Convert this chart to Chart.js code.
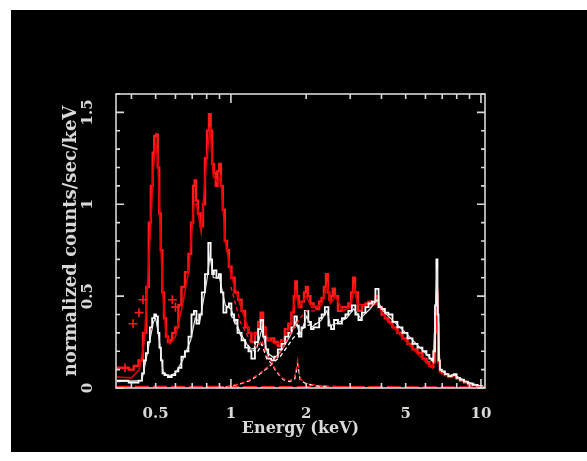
<!DOCTYPE html>
<html>
<head>
<meta charset="utf-8">
<script src="https://cdn.jsdelivr.net/npm/chart.js@4.4.1/dist/chart.umd.min.js"></script>
<style>
html,body{margin:0;padding:0;background:#fff;}
canvas{display:block;}
</style>
</head>
<body>
<canvas id="c" width="587" height="461"></canvas>
<script>
// ---- data (energy in keV, normalized counts/sec/keV) ----
const xTickValues = [0.5, 1, 2, 5, 10];
const xTickLabels = ['0.5', '1', '2', '5', '10'];
const yTickValues = [0, 0.5, 1, 1.5];
const yTickLabels = ['0', '0.5', '1', '1.5'];
const xMajorTicks = [1, 10];
const xMinorTicks = [0.4, 0.5, 0.6, 0.7, 0.8, 0.9, 2, 3, 4, 5, 6, 7, 8, 9];
const yMajorTicks = [0, 0.5, 1, 1.5];
const yMinorTicks = [0.1, 0.2, 0.3, 0.4, 0.6, 0.7, 0.8, 0.9, 1.1, 1.2, 1.3, 1.4, 1.6];

const redDataE = [0.35,0.38,0.40,0.417,0.437,0.453,0.465,0.474,0.483,0.49,0.497,0.506,0.513,0.52,0.528,0.535,0.545,0.555,0.565,0.575,0.59,0.608,0.625,0.643,0.667,0.686,0.70,0.712,0.72,0.73,0.745,0.766,0.78,0.795,0.81,0.824,0.835,0.847,0.863,0.877,0.89,0.904,0.92,0.935,0.955,0.973,0.99,1.02,1.05,1.086,1.12,1.16,1.19,1.225,1.27,1.30,1.33,1.36,1.39,1.43,1.47,1.51,1.57,1.61,1.675,1.72,1.77,1.80,1.82,1.85,1.89,1.94,1.98,2.01,2.05,2.11,2.17,2.23,2.28,2.33,2.38,2.42,2.46,2.49,2.53,2.58,2.63,2.73,2.83,2.91,2.99,3.06,3.11,3.16,3.28,3.40,3.50,3.60,3.73,3.84,3.95,4.06,4.2,4.33,4.53,4.74,4.97,5.2,5.45,5.7,5.97,6.14,6.3,6.4,6.5,6.6,6.67,6.73,6.8,6.9,7.05,7.3,7.52,7.73,7.87,8.1,8.4,8.7,9.04,9.46,9.9,10.3];
const redDataY = [0.11,0.11,0.10,0.12,0.15,0.30,0.55,0.90,1.10,1.28,1.37,1.38,1.20,0.95,0.75,0.52,0.38,0.28,0.25,0.26,0.30,0.33,0.45,0.55,0.63,0.73,0.90,1.10,1.13,1.02,0.95,0.88,1.00,1.25,1.40,1.49,1.40,1.22,1.17,1.10,1.18,1.22,1.10,0.97,0.80,0.75,0.66,0.60,0.52,0.48,0.42,0.33,0.30,0.25,0.30,0.36,0.41,0.33,0.27,0.26,0.27,0.25,0.23,0.26,0.32,0.35,0.41,0.50,0.58,0.50,0.44,0.47,0.52,0.55,0.50,0.46,0.44,0.43,0.47,0.49,0.55,0.62,0.52,0.48,0.50,0.54,0.50,0.42,0.44,0.44,0.46,0.52,0.60,0.52,0.42,0.45,0.46,0.47,0.46,0.50,0.44,0.40,0.38,0.36,0.33,0.30,0.27,0.24,0.21,0.19,0.16,0.14,0.12,0.115,0.14,0.30,0.52,0.35,0.14,0.09,0.08,0.07,0.06,0.065,0.07,0.05,0.04,0.03,0.02,0.015,0.01,0.005];

const redModelE = [0.35,0.40,0.43,0.45,0.47,0.49,0.50,0.51,0.52,0.535,0.55,0.57,0.60,0.64,0.68,0.71,0.73,0.76,0.80,0.825,0.85,0.89,0.91,0.95,1.0,1.09,1.19,1.27,1.33,1.4,1.5,1.6,1.72,1.82,1.87,2.0,2.1,2.3,2.43,2.5,2.62,2.8,3.0,3.12,3.2,3.5,3.85,4.2,4.74,5.45,6.14,6.4,6.67,6.85,7.5,7.87,8.7,10.3];
const redModelY = [0.06,0.055,0.10,0.25,0.70,1.20,1.33,1.25,0.90,0.50,0.30,0.24,0.28,0.45,0.65,1.00,1.00,0.85,1.25,1.42,1.15,1.12,1.15,0.80,0.62,0.45,0.30,0.29,0.37,0.27,0.24,0.25,0.33,0.52,0.44,0.50,0.44,0.45,0.56,0.46,0.50,0.42,0.44,0.55,0.46,0.44,0.46,0.37,0.29,0.20,0.13,0.11,0.48,0.09,0.06,0.065,0.03,0.004];

const whiteDataE = [0.35,0.38,0.40,0.417,0.437,0.445,0.453,0.461,0.47,0.478,0.49,0.497,0.506,0.515,0.52,0.53,0.535,0.55,0.57,0.59,0.608,0.625,0.643,0.667,0.686,0.705,0.718,0.738,0.755,0.775,0.80,0.824,0.835,0.847,0.863,0.887,0.904,0.92,0.946,0.973,0.99,1.019,1.04,1.086,1.12,1.16,1.19,1.225,1.27,1.30,1.33,1.36,1.39,1.43,1.47,1.51,1.57,1.62,1.675,1.72,1.77,1.82,1.85,1.89,1.94,2.01,2.07,2.11,2.17,2.23,2.28,2.33,2.42,2.49,2.54,2.63,2.73,2.83,2.91,2.99,3.1,3.19,3.28,3.40,3.50,3.60,3.73,3.84,3.95,4.06,4.2,4.33,4.53,4.74,4.97,5.2,5.45,5.7,5.97,6.14,6.3,6.4,6.5,6.6,6.67,6.73,6.8,6.9,7.05,7.3,7.52,7.73,7.87,8.1,8.4,8.7,9.04,9.46,9.9,10.3];
const whiteDataY = [0.04,0.04,0.03,0.03,0.04,0.08,0.15,0.19,0.25,0.33,0.38,0.40,0.39,0.30,0.22,0.15,0.08,0.07,0.06,0.07,0.09,0.11,0.17,0.20,0.28,0.40,0.42,0.35,0.40,0.52,0.62,0.79,0.70,0.62,0.64,0.60,0.62,0.52,0.41,0.44,0.46,0.40,0.37,0.30,0.26,0.22,0.20,0.16,0.25,0.32,0.37,0.28,0.21,0.16,0.15,0.17,0.21,0.24,0.28,0.30,0.33,0.39,0.34,0.28,0.33,0.42,0.36,0.32,0.33,0.33,0.38,0.40,0.44,0.34,0.32,0.37,0.35,0.38,0.40,0.42,0.45,0.40,0.37,0.41,0.44,0.46,0.47,0.54,0.44,0.43,0.41,0.40,0.36,0.33,0.30,0.27,0.24,0.22,0.20,0.18,0.16,0.15,0.20,0.45,0.70,0.40,0.15,0.10,0.09,0.075,0.065,0.07,0.075,0.055,0.045,0.035,0.025,0.017,0.01,0.006];

const whiteModelE = [0.35,0.44,0.46,0.49,0.50,0.515,0.535,0.56,0.60,0.64,0.69,0.72,0.75,0.80,0.825,0.85,0.90,0.95,1.0,1.09,1.19,1.27,1.33,1.4,1.5,1.6,1.72,1.82,1.89,2.01,2.1,2.3,2.42,2.5,2.63,2.9,3.1,3.3,3.6,3.84,4.06,4.5,5.0,5.7,6.3,6.45,6.67,6.85,7.5,7.87,8.7,10.3];
const whiteModelY = [0.035,0.04,0.17,0.36,0.38,0.28,0.09,0.065,0.08,0.15,0.26,0.38,0.36,0.58,0.72,0.60,0.60,0.45,0.43,0.30,0.21,0.22,0.32,0.19,0.16,0.21,0.28,0.36,0.29,0.39,0.33,0.37,0.42,0.34,0.35,0.38,0.43,0.38,0.43,0.48,0.42,0.36,0.30,0.22,0.16,0.14,0.65,0.10,0.065,0.07,0.035,0.005];

const redSoftE = [1.0,1.09,1.19,1.27,1.33,1.39,1.46,1.51,1.57,1.62,1.72,1.80,1.85,1.89,2.0,2.2,2.5,3.0,4.0];
const redSoftY = [0.55,0.36,0.26,0.22,0.26,0.18,0.136,0.10,0.07,0.05,0.04,0.06,0.15,0.05,0.025,0.015,0.01,0.006,0.004];
const whiteSoftE = [1.0,1.09,1.19,1.27,1.33,1.39,1.46,1.51,1.57,1.62,1.72,1.80,1.85,1.89,2.0,2.2,2.5];
const whiteSoftY = [0.40,0.29,0.22,0.19,0.24,0.16,0.13,0.095,0.065,0.045,0.035,0.05,0.13,0.045,0.022,0.012,0.008];
const redHardE = [0.85,0.95,1.0,1.09,1.19,1.27,1.36,1.46,1.57,1.67,1.77,1.89,2.0,2.2];
const redHardY = [0.002,0.006,0.01,0.025,0.045,0.07,0.10,0.136,0.19,0.26,0.32,0.38,0.42,0.42];
const whiteHardE = [0.9,1.0,1.09,1.19,1.27,1.36,1.46,1.57,1.67,1.77,1.89,2.0,2.2];
const whiteHardY = [0.003,0.01,0.022,0.04,0.065,0.095,0.13,0.17,0.22,0.27,0.31,0.34,0.35];
const baseE = [0.35, 10.3];
const baseY = [0.007, 0.004];
const crossE = [0.377, 0.406, 0.429, 0.445, 0.583, 0.60];
const crossY = [0.11, 0.35, 0.41, 0.48, 0.48, 0.44];

const pts = (xs, ys) => xs.map((x, i) => ({x: x, y: ys[i]}));
const RED = '#ff1a1a';
const WHITE = '#ffffff';
const FRAME = '#d8d8d8';

const bgPlugin = {
  id: 'bg',
  beforeDraw(chart) {
    const ctx = chart.ctx;
    ctx.save();
    ctx.fillStyle = '#ffffff';
    ctx.fillRect(0, 0, chart.width, chart.height);
    ctx.fillStyle = '#000000';
    ctx.fillRect(11, 10, chart.width - 11, 442);
    ctx.restore();
  }
};

const framePlugin = {
  id: 'frame',
  afterDatasetsDraw(chart) {
    const {ctx, chartArea: a, scales: {x, y}} = chart;
    ctx.save();
    ctx.strokeStyle = FRAME;
    ctx.lineWidth = 1.6;
    ctx.strokeRect(a.left, a.top, a.right - a.left, a.bottom - a.top);
    ctx.beginPath();
    const xt = (v, len) => {
      const p = x.getPixelForValue(v);
      ctx.moveTo(p, a.bottom); ctx.lineTo(p, a.bottom - len);
      ctx.moveTo(p, a.top); ctx.lineTo(p, a.top + len);
    };
    const yt = (v, len) => {
      const p = y.getPixelForValue(v);
      ctx.moveTo(a.left, p); ctx.lineTo(a.left + len, p);
      ctx.moveTo(a.right, p); ctx.lineTo(a.right - len, p);
    };
    xMajorTicks.forEach(v => xt(v, 9));
    xMinorTicks.forEach(v => xt(v, 5));
    yMajorTicks.forEach(v => yt(v, 8));
    yMinorTicks.forEach(v => yt(v, 4));
    ctx.stroke();
    ctx.restore();
  }
};

const line = (label, xs, ys, color, width, extra) => Object.assign({
  label: label, data: pts(xs, ys), borderColor: color, backgroundColor: color,
  borderWidth: width, pointRadius: 0, tension: 0, fill: false
}, extra || {});

const datasets = [
  line('pn soft component', redSoftE, redSoftY, RED, 1.3, {borderDash: [4, 3]}),
  line('MOS soft component', whiteSoftE, whiteSoftY, WHITE, 1.3, {borderDash: [4, 3]}),
  line('pn hard component', redHardE, redHardY, RED, 1.3, {borderDash: [4, 3]}),
  line('MOS hard component', whiteHardE, whiteHardY, WHITE, 1.3, {borderDash: [4, 3]}),
  line('baseline component', baseE, baseY, RED, 2, {borderDash: [14, 4]}),
  {type: 'scatter', label: 'pn points', data: pts(crossE, crossY), pointStyle: 'cross',
   pointRadius: 4.5, borderColor: RED, borderWidth: 1.6, showLine: false},
  line('MOS model', whiteModelE, whiteModelY, '#e8e8e8', 1.2),
  line('MOS data', whiteDataE, whiteDataY, WHITE, 1.8, {stepped: 'middle'}),
  line('pn model', redModelE, redModelY, '#e00000', 1.6),
  line('pn data', redDataE, redDataY, RED, 2.4, {stepped: 'middle'})
];

new Chart(document.getElementById('c'), {
  type: 'line',
  data: {datasets: datasets},
  plugins: [bgPlugin, framePlugin],
  options: {
    responsive: false,
    animation: false,
    devicePixelRatio: 1,
    layout: {padding: {left: 0, top: 94, right: 102, bottom: 0}},
    plugins: {legend: {display: false}, tooltip: {enabled: false}},
    scales: {
      x: {
        type: 'logarithmic', min: 0.347, max: 10.38, bounds: 'data',
        grid: {display: false}, border: {display: false},
        afterBuildTicks: s => { s.ticks = xTickValues.map(v => ({value: v})); },
        afterFit: s => { s.height = 73; },
        ticks: {
          autoSkip: false, maxRotation: 0, minRotation: 0, padding: 9,
          color: FRAME, font: {family: 'DejaVu Serif', size: 15, weight: 'bold'},
          callback: (v, i) => xTickLabels[i]
        },
        title: {display: true, text: 'Energy (keV)', color: FRAME,
          font: {family: 'DejaVu Serif', size: 16, weight: 'bold'}, padding: {top: 0, bottom: 23}}
      },
      y: {
        type: 'linear', min: 0, max: 1.6,
        grid: {display: false}, border: {display: false},
        afterBuildTicks: s => { s.ticks = yTickValues.map(v => ({value: v})); },
        afterFit: s => { s.width = 116; },
        ticks: {
          minRotation: 90, maxRotation: 90, crossAlign: 'center', padding: 7,
          color: FRAME, font: {family: 'DejaVu Serif', size: 15, weight: 'bold'},
          callback: (v, i) => yTickLabels[i]
        },
        title: {display: true, text: 'normalized counts/sec/keV', color: FRAME,
          font: {family: 'DejaVu Serif', size: 18, weight: 'bold'}, padding: {top: 61, bottom: 0}}
      }
    }
  }
});
</script>
</body>
</html>
